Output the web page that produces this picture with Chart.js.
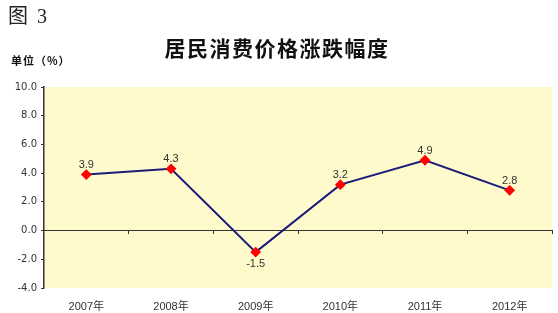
<!DOCTYPE html>
<html lang="zh">
<head>
<meta charset="UTF-8">
<title>居民消费价格涨跌幅度</title>
<script src="https://cdn.jsdelivr.net/npm/chart.js"></script>
<style>
  html, body { margin: 0; padding: 0; background: #fff; }
  #wrap { position: relative; width: 558px; height: 313px; }
  #fig { position: absolute; left: 8px; top: 0px; font: 20px "Liberation Serif", "Noto Sans CJK SC", serif; color: #222; letter-spacing: 2px; }
  #title { position: absolute; left: 0; width: 554px; top: 32px; text-align: center; font: bold 21px "Noto Sans CJK SC", sans-serif; color: #111; letter-spacing: 1.5px; }
  #unit { position: absolute; left: 11px; top: 52px; font: bold 11px "Noto Sans CJK SC", sans-serif; color: #111; letter-spacing: 1px; }
</style>
</head>
<body>
<div id="wrap">
  <div id="fig">图 3</div>
  <div id="title">居民消费价格涨跌幅度</div>
  <div id="unit">单位（%）</div>
  <canvas id="chart" width="558" height="313"></canvas>
</div>
<script>
const years = ["2007年", "2008年", "2009年", "2010年", "2011年", "2012年"];
const cpiChange = [3.9, 4.3, -1.5, 3.2, 4.9, 2.8];
const yMin = -4, yMax = 10, yStep = 2;

// yellow plot background
const plotBg = {
  id: "plotBg",
  beforeDraw(chart) {
    const { ctx, chartArea: a } = chart;
    ctx.save();
    ctx.fillStyle = "#FFFACB";
    ctx.fillRect(a.left, a.top, a.right - a.left, a.bottom - a.top);
    ctx.restore();
  }
};

// value labels above points (below for negatives)
const valueLabels = {
  id: "valueLabels",
  afterDatasetsDraw(chart) {
    const ctx = chart.ctx;
    const meta = chart.getDatasetMeta(0);
    ctx.save();
    ctx.font = "11px 'Liberation Sans', Arial, sans-serif";
    ctx.fillStyle = "#333";
    ctx.textAlign = "center";
    meta.data.forEach((pt, i) => {
      const v = cpiChange[i];
      if (v >= 0) {
        ctx.textBaseline = "bottom";
        ctx.fillText(v.toFixed(1), pt.x, pt.y - 4);
      } else {
        ctx.textBaseline = "top";
        ctx.fillText(v.toFixed(1), pt.x, pt.y + 6);
      }
    });
    ctx.restore();
  }
};

new Chart(document.getElementById("chart"), {
  type: "line",
  data: {
    labels: years,
    datasets: [{
      data: cpiChange,
      borderColor: "#1B1B78",
      borderWidth: 2,
      pointStyle: "rectRot",
      pointRadius: 4,
      pointBackgroundColor: "#FF0000",
      pointBorderColor: "#FF0000",
      tension: 0
    }]
  },
  options: {
    responsive: false,
    animation: false,
    layout: { padding: { top: 87, right: 6, bottom: 0, left: 0 } },
    plugins: { legend: { display: false }, tooltip: { enabled: false } },
    scales: {
      x: {
        position: "bottom",
        offset: true,
        grid: { display: false },
        border: { display: false },
        ticks: { color: "#333", font: { size: 11, family: "'Liberation Sans', 'Noto Sans CJK SC', sans-serif" }, padding: 4 },
        afterFit(s) { s.height = 25; }
      },
      x0: {
        type: "category",
        position: { y: 0 },
        offset: true,
        ticks: { display: false },
        grid: { offset: true, drawOnChartArea: false, drawTicks: true, tickLength: 3, color: "#333" },
        border: { display: true, color: "#333", width: 1 }
      },
      y: {
        min: yMin,
        max: yMax,
        ticks: {
          stepSize: yStep,
          color: "#333",
          padding: 4,
          font: { size: 10, family: "Verdana, 'DejaVu Sans', sans-serif" },
          callback: v => v.toFixed(1)
        },
        grid: { drawOnChartArea: false, drawTicks: true, tickLength: 3, color: "#333" },
        border: { display: true, color: "#333", width: 1.5 },
        afterFit(s) { s.width = 44; }
      }
    }
  },
  plugins: [plotBg, valueLabels]
});
</script>
</body>
</html>
